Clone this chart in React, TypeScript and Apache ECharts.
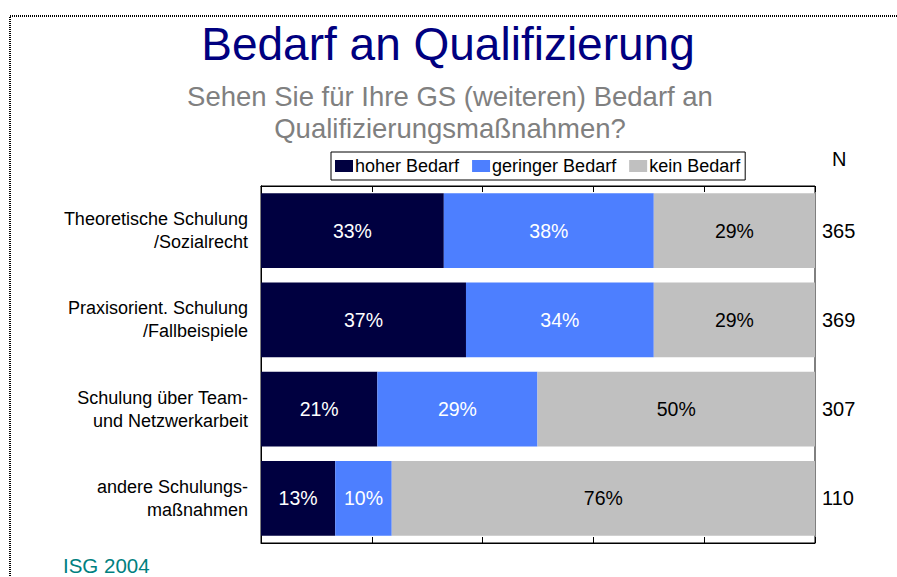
import React, { useEffect, useRef } from "react";
import * as echarts from "echarts";

const categories = [
  "Theoretische Schulung\n/Sozialrecht",
  "Praxisorient. Schulung\n/Fallbeispiele",
  "Schulung über Team-\nund Netzwerkarbeit",
  "andere Schulungs-\nmaßnahmen",
];
const hoherBedarf = [33, 37, 21, 13.4];
const geringerBedarf = [37.9, 33.9, 28.9, 10.2];
const keinBedarf = [29.1, 29.1, 50.1, 76.4];
const nValues = ["365", "369", "307", "110"];
const seriesNames = ["hoher Bedarf", "geringer Bedarf", "kein Bedarf"];

export default function App() {
  const ref = useRef<HTMLDivElement>(null);
  useEffect(() => {
    const chart = echarts.init(ref.current!, null, { renderer: "svg" });
    const font = "'Liberation Sans', Arial, sans-serif";
    const mk = (name: string, data: number[], color: string, labelColor: string) => ({
      name,
      type: "bar",
      stack: "total",
      xAxisIndex: 0,
      yAxisIndex: 0,
      data,
      barWidth: "84%",
      itemStyle: { color },
      label: {
        show: true,
        position: "inside",
        formatter: (p: any) => Math.round(p.value) + "%",
        color: labelColor,
        fontSize: 19.5,
        fontFamily: font,
      },
      emphasis: { disabled: true },
    });
    chart.setOption({
      animation: false,
      textStyle: { fontFamily: font },
      legend: {
        data: seriesNames,
        left: 331,
        top: 152,
        borderColor: "#000",
        borderWidth: 1,
        borderRadius: 0,
        padding: [5, 5, 5, 4],
        itemWidth: 18,
        itemHeight: 12,
        itemGap: 13,
        icon: "rect",
        textStyle: { fontSize: 18, color: "#000", padding: [0, 0, 0, -3], fontFamily: font },
      },
      grid: {
        left: 261,
        right: 82,
        top: 186,
        bottom: 34,
        show: true,
        borderColor: "#000",
        borderWidth: 1,
        backgroundColor: "transparent",
      },
      xAxis: [
        {
          type: "value",
          min: 0,
          max: 100,
          interval: 20,
          position: "bottom",
          axisLabel: { show: false },
          splitLine: { show: false },
          axisLine: { show: true, lineStyle: { color: "#000" } },
          axisTick: { show: true, inside: true, length: 6, lineStyle: { color: "#000" } },
        },
        {
          type: "value",
          min: 0,
          max: 100,
          interval: 20,
          position: "top",
          axisLabel: { show: false },
          splitLine: { show: false },
          axisLine: { show: true, lineStyle: { color: "#000" } },
          axisTick: { show: true, inside: true, length: 6, lineStyle: { color: "#000" } },
        },
      ],
      yAxis: [
        {
          type: "category",
          data: categories,
          inverse: true,
          axisTick: { show: false },
          axisLine: { show: true, lineStyle: { color: "#000" } },
          axisLabel: {
            fontSize: 18,
            lineHeight: 23,
            color: "#000",
            align: "right",
            margin: 13,
            fontFamily: font,
          },
        },
        {
          type: "category",
          data: nValues,
          inverse: true,
          position: "right",
          axisTick: { show: false },
          axisLine: { show: true, lineStyle: { color: "#000" } },
          axisLabel: { fontSize: 20, color: "#000", margin: 7, fontFamily: font },
        },
      ],
      series: [
        mk(seriesNames[0], hoherBedarf, "#000040", "#fff"),
        mk(seriesNames[1], geringerBedarf, "#4d7fff", "#fff"),
        mk(seriesNames[2], keinBedarf, "#c0c0c0", "#000"),
      ],
      graphic: [
        {
          type: "text",
          x: 448,
          y: 21,
          style: {
            text: "Bedarf an Qualifizierung",
            fontSize: 46,
            fill: "#000080",
            fontFamily: font,
            textAlign: "center",
            textVerticalAlign: "top",
          },
        },
        {
          type: "text",
          x: 450,
          y: 80,
          style: {
            text: "Sehen Sie für Ihre GS (weiteren) Bedarf an\nQualifizierungsmaßnahmen?",
            fontSize: 27.5,
            lineHeight: 32,
            fill: "#808080",
            fontFamily: font,
            textAlign: "center",
            textVerticalAlign: "top",
          },
        },
        {
          type: "text",
          left: 832,
          top: 149,
          style: { text: "N", fontSize: 20, fill: "#000", fontFamily: font },
        },
        {
          type: "text",
          left: 63,
          top: 555,
          style: { text: "ISG 2004", fontSize: 20.5, fill: "#008080", fontFamily: font },
        },
        {
          type: "rect",
          shape: { x: 10, y: 16, width: 1000, height: 1000 },
          style: { fill: "none", stroke: "#000", lineWidth: 2, lineDash: [1, 1] },
          silent: true,
        },
      ],
    });
    return () => chart.dispose();
  }, []);
  return (
    <div
      ref={ref}
      style={{ position: "absolute", left: 0, top: 0, width: 897, height: 577, background: "#fff" }}
    />
  );
}
